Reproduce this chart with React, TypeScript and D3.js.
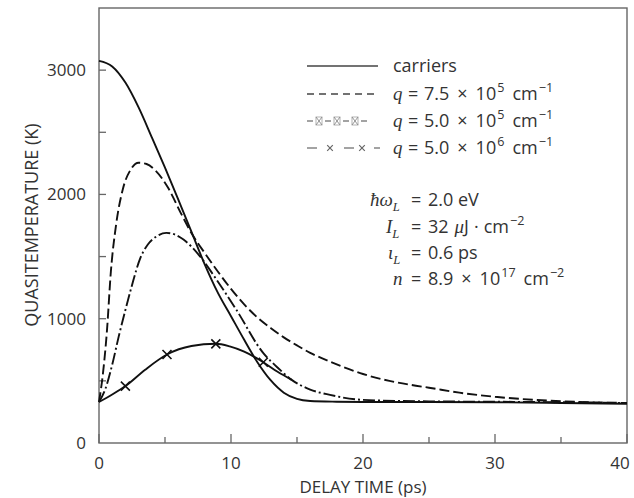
import * as d3 from "d3";

// carriers (solid)
const carrierT = [0, 1, 2, 3, 4, 5, 6, 7, 8, 9, 10, 11, 12, 13, 14, 15, 16, 18, 20, 25, 30, 35, 40];
const carrierK = [3075, 3030, 2900, 2700, 2460, 2215, 1960, 1700, 1440, 1210, 1020, 830, 650, 505, 405, 355, 338, 332, 330, 330, 328, 322, 315];

// q = 7.5e5 cm^-1 (dashed)
const q75T = [0, 0.3, 0.6, 0.9, 1.3, 1.8, 2.4, 3.0, 3.6, 4.3, 5.2, 6.2, 7, 8, 9, 10, 11, 12, 13, 14, 15, 16, 17.5, 20, 22, 23.6, 25, 27.3, 30, 35, 40];
const q75K = [330, 560, 900, 1380, 1760, 2040, 2200, 2255, 2245, 2190, 2060, 1850, 1690, 1530, 1380, 1240, 1115, 1010, 925, 850, 785, 725, 655, 555, 500, 468, 445, 405, 372, 336, 322];

// q = 5.0e5 cm^-1 (dash-dot)
const q50T = [0, 0.5, 1, 1.5, 2, 2.5, 3.1, 3.7, 4.4, 5.1, 5.8, 6.4, 7.65, 8.9, 10.4, 12.45, 13.5, 14.6, 16, 17.5, 20, 25, 30, 35, 40];
const q50K = [330, 440, 630, 860, 1070, 1270, 1480, 1597, 1665, 1691, 1675, 1637, 1502, 1315, 1073, 723, 610, 508, 430, 387, 347, 335, 332, 328, 322];

// q = 5.0e6 cm^-1 (solid with crosses)
const q500T = [0, 1, 2, 3.5, 5.15, 7, 8.85, 9.9, 11, 12.45, 13.5, 14.6];
const q500K = [330, 390, 458, 590, 712, 780, 798, 777, 735, 650, 575, 508];
const crossT = [2.0, 5.15, 8.85, 12.45];
const crossK = [458, 712, 798, 650];

const xTicks = [0, 5, 10, 15, 20, 25, 30, 35, 40];
const xLabels = [0, 10, 20, 30, 40];
const yTicks = [500, 1000, 1500, 2000, 2500, 3000];
const yLabels = [0, 1000, 2000, 3000];

const sans = "'Open Sans', 'DejaVu Sans', sans-serif";
const serif = "'Liberation Serif', 'DejaVu Serif', serif";
const ink = "#333";

type Seg = { s: string; it?: boolean; sup?: boolean; sub?: boolean; x?: number; dx?: number };

function Rich({ x, y, segs, size = 18 }: { x: number; y: number; segs: Seg[]; size?: number }) {
  let shift = 0;
  return (
    <text x={x} y={y} fontSize={size} fontFamily={sans} fill={ink} style={{ whiteSpace: "pre" }}>
      {segs.map((g, i) => {
        const target = g.sup ? -0.42 * size : g.sub ? 0.28 * size : 0;
        const dy = target - shift;
        shift = target;
        return (
          <tspan
            key={i}
            x={g.x}
            dx={g.dx}
            dy={dy}
            fontFamily={g.it ? serif : undefined}
            fontStyle={g.it ? "italic" : undefined}
            fontSize={g.sup || g.sub ? size * 0.7 : g.it ? size * 1.05 : undefined}
          >
            {g.s}
          </tspan>
        );
      })}
    </text>
  );
}

// "a × 10^e cm^-p" with math spacing
const sci = (mant: string, e: string, p: string, at: number): Seg[] => [
  { s: mant, x: at },
  { s: "×", dx: 8 },
  { s: "10", dx: 8 },
  { s: e, sup: true, dx: 1 },
  { s: "cm", dx: 8 },
  { s: "−" + p, sup: true, dx: 1 },
];

export default function App() {
  const x = d3.scaleLinear().domain([0, 40]).range([99, 627]);
  const y = d3.scaleLinear().domain([0, 3500]).range([443, 8]);

  const line = d3
    .line<[number, number]>()
    .x((d) => x(d[0]))
    .y((d) => y(d[1]))
    .curve(d3.curveMonotoneX);
  const zip = (t: number[], k: number[]) => t.map((v, i) => [v, k[i]] as [number, number]);

  const curve = { fill: "none", stroke: "#111", strokeWidth: 1.9 };

  const legendRows: Seg[][] = [
    [{ s: "carriers" }],
    [{ s: "q", it: true }, { s: "=", x: 408 }, ...sci("7.5", "5", "1", 424)],
    [{ s: "q", it: true }, { s: "=", x: 408 }, ...sci("5.0", "5", "1", 424)],
    [{ s: "q", it: true }, { s: "=", x: 408 }, ...sci("5.0", "6", "1", 424)],
  ];
  const legendY = [72, 100, 127, 154];

  const notes: { x: number; segs: Seg[] }[] = [
    { x: 370, segs: [{ s: "ħω", it: true }, { s: "L", it: true, sub: true }, { s: "=", x: 411 }, { s: "2.0 eV", x: 428 }] },
    { x: 386, segs: [{ s: "I", it: true }, { s: "L", it: true, sub: true }, { s: "=", x: 411 }, { s: "32", x: 428 }, { s: "μ", it: true, dx: 6 }, { s: "J" }, { s: "·", dx: 5 }, { s: "cm", dx: 5 }, { s: "−2", sup: true, dx: 1 }] },
    { x: 388, segs: [{ s: "ι", it: true }, { s: "L", it: true, sub: true }, { s: "=", x: 411 }, { s: "0.6 ps", x: 428 }] },
    { x: 393, segs: [{ s: "n", it: true }, { s: "=", x: 411 }, ...sci("8.9", "17", "2", 428)] },
  ];
  const notesY = [206, 233, 259, 285];

  const cross = (cx: number, cy: number, r = 4.5) =>
    `M${cx - r},${cy - r}L${cx + r},${cy + r}M${cx - r},${cy + r}L${cx + r},${cy - r}`;

  return (
    <svg width={634} height={498} style={{ position: "absolute", left: 0, top: 0, background: "#fff" }}>
      {/* frame */}
      <rect x={99} y={8} width={528} height={435} fill="none" stroke="#666" strokeWidth={1.4} />
      {xTicks.map((t) => (
        <line key={t} x1={x(t)} x2={x(t)} y1={443} y2={443 - (t % 10 === 0 ? 9 : 6)} stroke="#666" strokeWidth={1.3} />
      ))}
      {yTicks.map((v) => (
        <line key={v} x1={99} x2={106} y1={y(v)} y2={y(v)} stroke="#666" strokeWidth={1.3} />
      ))}
      {xLabels.map((t) => (
        <text key={t} x={Math.min(x(t), 620)} y={469} textAnchor="middle" fontSize={17} fontFamily={sans} fill={ink}>
          {t}
        </text>
      ))}
      {yLabels.map((v) => (
        <text key={v} x={86} y={y(v) + 6} textAnchor="end" fontSize={17} fontFamily={sans} fill={ink}>
          {v}
        </text>
      ))}
      <text transform="translate(38,225) rotate(-90)" textAnchor="middle" fontSize={18} fontFamily={sans} fill={ink}>
        QUASITEMPERATURE (K)
      </text>
      <text x={363} y={493} textAnchor="middle" fontSize={17} fontFamily={sans} fill={ink}>
        DELAY TIME (ps)
      </text>

      {/* curves */}
      <path d={line(zip(carrierT, carrierK)) ?? ""} {...curve} />
      <path d={line(zip(q75T, q75K)) ?? ""} {...curve} strokeDasharray="10,4" />
      <path d={line(zip(q50T, q50K)) ?? ""} {...curve} strokeDasharray="12,3,2,3" />
      <path d={line(zip(q500T, q500K)) ?? ""} {...curve} />
      {crossT.map((t, i) => (
        <path key={t} d={cross(x(t), y(crossK[i]))} stroke="#111" strokeWidth={1.6} fill="none" />
      ))}

      {/* legend samples */}
      <line x1={307} x2={378} y1={66} y2={66} stroke="#444" strokeWidth={1.3} />
      <line x1={307} x2={378} y1={94} y2={94} stroke="#444" strokeWidth={1.3} strokeDasharray="7,5" />
      <g stroke="#666" strokeWidth={1.2} fill="none">
        {[307, 325, 343, 361].map((a) => (
          <line key={a} x1={a} x2={a + 6} y1={121} y2={121} />
        ))}
        {[316, 334, 352].map((a) => (
          <g key={a}>
            <rect x={a} y={117} width={6} height={8} stroke="#aaa" strokeWidth={0.9} />
            <path d={`M${a},${117}L${a + 6},${125}M${a},${125}L${a + 6},${117}`} stroke="#888" strokeWidth={0.9} />
          </g>
        ))}
      </g>
      <g stroke="#666" strokeWidth={1.2} fill="none">
        {[307, 344, 374].map((a) => (
          <line key={a} x1={a} x2={a + (a === 374 ? 6 : 10)} y1={148} y2={148} />
        ))}
        {[330, 362].map((a) => (
          <path key={a} d={cross(a, 148, 2.8)} />
        ))}
      </g>
      {legendRows.map((segs, i) => (
        <Rich key={i} x={393} y={legendY[i]} segs={segs} />
      ))}
      {notes.map((n, i) => (
        <Rich key={i} x={n.x} y={notesY[i]} segs={n.segs} />
      ))}
    </svg>
  );
}
